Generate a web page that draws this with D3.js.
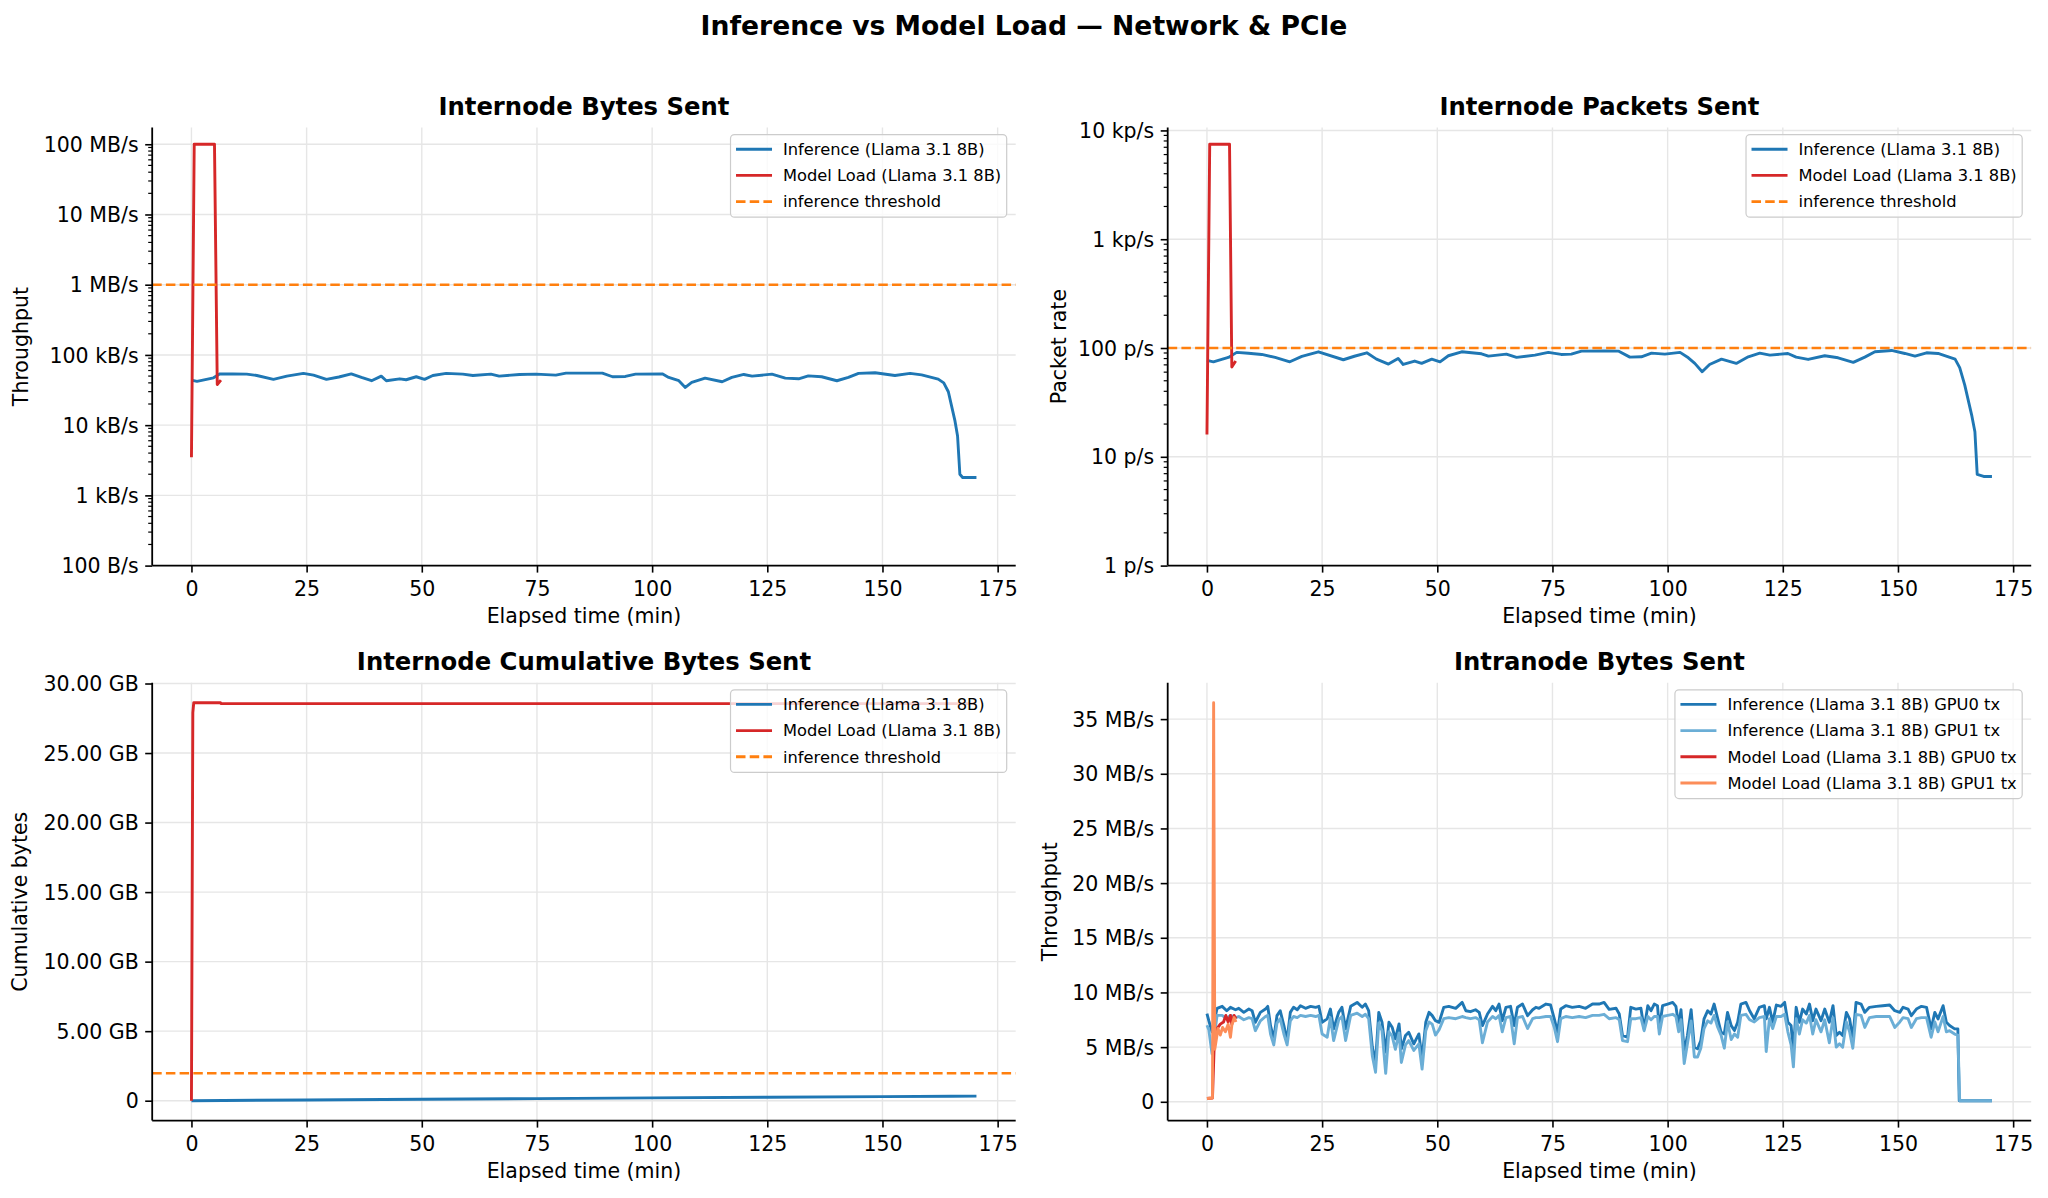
<!DOCTYPE html>
<html><head><meta charset="utf-8">
<script src="https://cdn.jsdelivr.net/npm/d3@7/dist/d3.min.js"></script>
<style>
body{margin:0;background:#fff}
svg{display:block}
text{font-family:"DejaVu Sans",sans-serif;fill:#000}
</style>
</head><body>
<svg id="chart" width="2048" height="1198"></svg>
<script>
// ---------------- DATA ----------------
const suptitle = "Inference vs Model Load — Network & PCIe";
const panelTitles = ["Internode Bytes Sent","Internode Packets Sent","Internode Cumulative Bytes Sent","Intranode Bytes Sent"];
const yLabels = ["Throughput","Packet rate","Cumulative bytes","Throughput"];
const xLabel = "Elapsed time (min)";
const xTicks = [0,25,50,75,100,125,150,175];

const bytesTicks = [1e2,1e3,1e4,1e5,1e6,1e7,1e8];
const bytesTickLabels = ["100 B/s","1 kB/s","10 kB/s","100 kB/s","1 MB/s","10 MB/s","100 MB/s"];
const pktTicks = [1,10,100,1000,10000];
const pktTickLabels = ["1 p/s","10 p/s","100 p/s","1 kp/s","10 kp/s"];
const cumTicks = [0,5,10,15,20,25,30];
const cumTickLabels = ["0","5.00 GB","10.00 GB","15.00 GB","20.00 GB","25.00 GB","30.00 GB"];
const intraTicks = [0,5,10,15,20,25,30,35];
const intraTickLabels = ["0","5 MB/s","10 MB/s","15 MB/s","20 MB/s","25 MB/s","30 MB/s","35 MB/s"];

const legendNet = ["Inference (Llama 3.1 8B)","Model Load (Llama 3.1 8B)","inference threshold"];
const legendIntra = ["Inference (Llama 3.1 8B) GPU0 tx","Inference (Llama 3.1 8B) GPU1 tx","Model Load (Llama 3.1 8B) GPU0 tx","Model Load (Llama 3.1 8B) GPU1 tx"];

// thresholds
const bytesThreshold = 1e6;      // B/s
const pktThreshold = 100;        // p/s
const cumThreshold = 1.97;       // GB

// Internode bytes sent, [minute, kB/s]
const infBytes = [[0,43.8],[1.2,42.0],[3.0,44.5],[4.8,47.2],[6.2,53.8],[9,53.5],[12.0,53.3],[14.2,51.0],[17.8,44.8],[20.7,49.9],[24.3,54.6],[26.5,51.5],[29.3,44.8],[32,48.5],[34.7,53.8],[36.9,47.8],[39.1,42.9],[41.2,49.9],[42.3,42.9],[45.2,45.7],[46.6,44.3],[48.8,48.9],[50.6,44.8],[52.4,51.0],[55.3,54.6],[58.9,53.3],[61.1,51.0],[65.0,53.3],[66.8,49.9],[71.2,52.7],[74.8,53.3],[79.1,51.6],[81.3,55.1],[86.3,55.1],[89.2,55.1],[91.4,48.9],[94.2,49.4],[96.4,53.3],[102.2,53.8],[103.6,47.8],[105.8,42.9],[107.2,34.5],[108.6,40.6],[111.5,46.8],[115.2,41.5],[117.3,47.8],[119.9,52.7],[121.7,49.9],[126.0,53.3],[128.9,46.8],[131.8,45.7],[133.9,50.4],[136.8,48.9],[140.1,42.9],[142.6,47.8],[144.8,54.6],[148.4,55.7],[152.7,51.0],[156.0,54.6],[158.5,52.1],[162.1,45.3],[163.3,40.0],[164.3,29.9],[165.7,11.8],[166.3,7.0],[166.8,2.0],[167.4,1.8],[170.4,1.8]];
const loadBytes = [[0,3.5],[0.6,100000],[5.0,100000],[5.6,38.0],[6.4,43.8]];

// Internode packets sent, [minute, p/s]
const infPkts = [[0,76.9],[1.4,74.7],[4.65,82.0],[6.46,91.2],[9,89.5],[11.9,87.3],[14.8,82.0],[18.0,74.7],[20.6,83.7],[24.2,92.3],[29.6,78.0],[32,84],[34.7,90.4],[36.8,79.1],[39.4,71.2],[41.5,80.2],[42.6,70.6],[45.1,75.9],[46.6,72.2],[48.8,79.1],[50.6,74.7],[52.4,84.9],[55.3,92.3],[59.6,88.5],[61.1,84.3],[65.0,87.9],[67.2,82.0],[71.2,86.0],[74.1,91.2],[76.9,87.3],[79.1,87.9],[81.3,93.7],[86.4,94.2],[89.3,93.7],[91.8,82.5],[94.3,83.0],[96.5,89.8],[99.4,87.9],[102.7,91.2],[104.5,81.3],[105.9,72.2],[107.5,60.5],[109.1,70.6],[111.7,79.1],[114.9,72.2],[117.5,83.0],[120.0,89.8],[122.2,86.0],[126.1,89.1],[127.9,82.5],[130.5,78.5],[134.1,84.9],[137.0,81.3],[140.3,73.8],[142.8,82.5],[145.0,92.3],[148.6,95.0],[151.5,89.1],[153.7,84.3],[156.2,90.4],[158.7,89.1],[162.4,79.1],[163.4,66],[164.5,45.6],[166.0,24.2],[166.7,17.0],[167.2,6.9],[168.6,6.6],[170.4,6.6]];
const loadPkts = [[0,16],[0.6,7470],[4.9,7470],[5.4,67],[6.24,75.9]];

// Internode cumulative bytes, [minute, GB]
const infCum = [[0,0],[25,0.05],[50,0.1],[75,0.15],[100,0.2],[125,0.245],[150,0.29],[165,0.325],[170.4,0.33]];
const loadCum = [[0,0],[0.3,27.9],[0.5,28.62],[6.3,28.62],[6.4,28.55],[170.4,28.55]];

// Intranode bytes sent, [minute, MB/s]
const infGpu0 = [[0,8.07],[0.4,7.42],[1.1,6.4],[2.2,8.55],[3.3,8.73],[4.3,8.33],[5.1,8.64],[6.2,8.42],[6.9,8.55],[8.0,8.18],[9.1,8.48],[9.8,8.33],[10.5,7.27],[11.6,8.18],[12.7,8.48],[13.2,8.73],[13.8,6.97],[14.5,5.76],[15.2,7.88],[15.9,8.33],[16.7,6.97],[17.4,5.61],[18.1,8.18],[18.8,8.64],[19.6,8.42],[20.3,8.79],[21.4,8.55],[22.5,8.73],[23.6,8.64],[24.3,8.73],[25.0,7.27],[26.1,7.58],[26.8,8.48],[27.5,6.67],[28.6,8.18],[29.3,8.64],[30.1,6.67],[31.2,8.73],[32.6,9.09],[33.7,8.64],[34.4,8.94],[35.1,8.33],[35.9,5.0],[36.6,3.64],[37.3,8.18],[38.0,7.27],[38.8,4.55],[39.5,7.27],[40.2,6.82],[40.9,5.76],[41.7,7.12],[42.2,4.85],[43.1,6.06],[43.8,6.36],[44.9,5.30],[46.0,6.21],[46.7,3.94],[47.5,7.27],[48.2,8.18],[48.9,7.88],[49.6,7.42],[50.4,7.27],[51.4,8.64],[52.5,8.73],[54.0,8.55],[55.4,9.09],[56.2,8.33],[57.2,8.24],[58.3,8.42],[59.1,8.18],[59.8,6.97],[60.9,8.03],[62.0,8.73],[62.7,8.33],[63.4,8.94],[64.1,7.42],[64.9,8.64],[65.9,8.73],[66.7,6.97],[67.4,8.64],[68.5,8.94],[69.6,7.88],[70.7,8.42],[71.4,8.64],[72.1,8.55],[73.6,8.94],[74.6,8.85],[75.4,7.58],[76.1,6.36],[76.8,8.48],[77.9,8.79],[79.3,8.64],[80.8,8.73],[82.2,8.55],[83.7,8.94],[85.1,8.94],[86.2,9.09],[87.3,8.45],[88.8,8.55],[89.5,8.03],[90.2,6.06],[91.3,5.91],[92.0,8.64],[93.1,8.48],[94.2,8.55],[94.9,6.67],[95.7,8.79],[96.4,8.33],[97.1,8.94],[97.8,8.79],[98.2,6.67],[98.9,8.79],[100,8.94],[101.1,9.09],[101.8,8.73],[102.4,6.97],[102.9,8.42],[103.6,4.55],[104.3,6.06],[105.1,8.42],[105.8,5.0],[106.5,4.85],[107.2,5.61],[107.9,7.58],[108.7,8.33],[109.4,8.03],[110.1,8.94],[110.8,7.73],[111.6,6.36],[112.3,6.21],[113.0,8.18],[113.8,6.97],[114.5,6.52],[115.2,7.27],[115.9,8.94],[117.0,9.09],[117.8,8.33],[118.8,7.58],[119.9,8.64],[121.0,8.79],[121.4,7.58],[122.1,8.64],[122.8,7.27],[123.6,8.85],[124.6,8.73],[125.4,9.09],[126.1,7.27],[126.8,6.97],[127.3,4.55],[127.9,8.64],[128.6,7.27],[129.3,8.48],[130.1,8.03],[130.8,8.94],[131.5,7.42],[132.2,8.48],[133.3,7.42],[134.1,8.48],[135.1,7.27],[135.9,8.79],[136.6,6.06],[137.3,6.36],[138.0,6.06],[138.8,8.18],[139.5,7.58],[140.2,5.76],[140.9,9.09],[142.0,8.94],[142.8,8.18],[143.8,8.64],[145.3,8.73],[146.7,8.79],[148.2,8.85],[149.3,8.33],[150.4,8.18],[151.1,8.64],[152.2,8.48],[152.9,7.88],[154.0,8.48],[155.1,8.73],[156.2,8.64],[157.2,6.67],[158.0,8.18],[158.7,7.58],[159.8,8.79],[160.5,7.27],[161.2,6.97],[162.3,6.67],[163.0,6.67],[163.3,0.1],[170.4,0.1]];
const infGpu1 = [[0,7.0],[0.4,6.6],[1.1,4.4],[2.2,7.9],[3.3,7.9],[4.3,7.6],[5.1,7.9],[6.2,7.7],[6.9,7.8],[8.0,7.5],[9.1,7.7],[9.8,7.6],[10.5,6.5],[11.6,7.4],[12.7,7.8],[13.2,7.9],[13.8,6.2],[14.5,5.2],[15.2,7.2],[15.9,7.6],[16.7,6.2],[17.4,5.2],[18.1,7.4],[18.8,7.8],[19.6,7.7],[20.3,7.9],[21.4,7.8],[22.5,7.9],[23.6,7.8],[24.3,7.9],[25.0,6.2],[26.1,5.9],[26.8,7.7],[27.5,5.6],[28.6,7.5],[29.3,7.8],[30.1,5.6],[31.2,7.9],[32.6,8.1],[33.7,7.8],[34.4,8.0],[35.1,7.6],[35.9,4.2],[36.6,2.7],[37.3,7.2],[38.0,6.5],[38.8,2.6],[39.5,6.4],[40.2,6.0],[40.9,4.8],[41.7,6.3],[42.2,3.6],[43.1,5.2],[43.8,5.6],[44.9,4.7],[46.0,5.3],[46.7,3.0],[47.5,6.5],[48.2,7.3],[48.9,7.1],[49.6,6.1],[50.4,6.6],[51.4,7.6],[52.5,7.7],[54.0,7.6],[55.4,7.8],[56.2,7.7],[57.2,7.6],[58.3,7.7],[59.1,7.5],[59.8,5.4],[60.9,7.3],[62.0,7.8],[62.7,7.6],[63.4,7.9],[64.1,6.4],[64.9,7.7],[65.9,7.8],[66.7,5.3],[67.4,7.7],[68.5,7.8],[69.6,6.7],[70.7,7.6],[71.4,7.7],[72.1,7.7],[73.6,7.8],[74.6,7.8],[75.4,6.8],[76.1,5.5],[76.8,7.6],[77.9,7.8],[79.3,7.7],[80.8,7.8],[82.2,7.7],[83.7,7.9],[85.1,7.9],[86.2,8.0],[87.3,7.6],[88.8,7.7],[89.5,7.5],[90.2,5.6],[91.3,5.5],[92.0,7.6],[93.1,7.6],[94.2,7.7],[94.9,6.5],[95.7,7.8],[96.4,7.5],[97.1,7.8],[97.8,7.8],[98.2,6.2],[98.9,7.8],[100,7.9],[101.1,8.0],[101.8,7.8],[102.4,6.4],[102.9,7.5],[103.6,3.5],[104.3,5.3],[105.1,7.4],[105.8,4.1],[106.5,4.1],[107.2,4.9],[107.9,6.7],[108.7,7.4],[109.4,7.2],[110.1,7.9],[110.8,6.9],[111.6,6.1],[112.3,4.9],[113.0,7.3],[113.8,5.7],[114.5,6.2],[115.2,5.9],[115.9,7.9],[117.0,8.0],[117.8,7.5],[118.8,7.3],[119.9,7.7],[121.0,7.8],[121.4,4.6],[122.1,7.6],[122.8,6.7],[123.6,7.8],[124.6,7.8],[125.4,8.0],[126.1,6.4],[126.8,5.2],[127.3,3.2],[127.9,7.6],[128.6,6.2],[129.3,7.5],[130.1,7.2],[130.8,7.9],[131.5,6.2],[132.2,7.5],[133.3,6.4],[134.1,7.5],[135.1,5.4],[135.9,7.7],[136.6,5.0],[137.3,5.3],[138.0,5.0],[138.8,7.3],[139.5,6.4],[140.2,4.9],[140.9,8.0],[142.0,7.9],[142.8,6.8],[143.8,7.7],[145.3,7.8],[146.7,7.8],[148.2,7.8],[149.3,6.8],[150.4,7.3],[151.1,7.7],[152.2,7.6],[152.9,6.8],[154.0,7.6],[155.1,7.7],[156.2,7.7],[157.2,5.9],[158.0,7.3],[158.7,6.4],[159.8,7.8],[160.5,6.4],[161.2,6.5],[162.3,6.2],[163.0,6.1],[163.4,0.1],[170.4,0.1]];
const loadGpu0 = [[0,0.3],[1.2,0.35],[1.6,5.5],[1.9,5.8],[2.2,6.7],[2.9,7.1],[3.6,7.3],[4.1,7.9],[4.6,7.3],[5.1,7.9],[5.4,7.1],[5.9,7.9],[6.3,7.6]];
const loadGpu1 = [[0,0.3],[1.2,0.35],[1.45,36.5],[1.7,4.8],[2.0,5.6],[2.4,6.7],[2.9,6.1],[3.4,6.8],[4.0,6.4],[4.6,7.1],[5.1,5.9],[5.4,7.0],[5.9,7.7],[6.3,7.3]];

// ---------------- STYLE / LAYOUT ----------------
const C = {blue:"#1f77b4", red:"#d62728", orange:"#ff7f0e", dark:"#1f77b4", light:"#6baed6", coral:"#fc8d59"};
const FS = 20.5, LFS = 16.3, LW = 2.9;
const svg = d3.select("#chart");

svg.append("text").attr("x",1024).attr("y",35).attr("text-anchor","middle")
  .attr("font-size",26.6).attr("font-weight","bold").text(suptitle);

function panel(cfg){
  const g = svg.append("g");
  const xExt = [0, d3.max(cfg.series.flatMap(s=>s.data.map(d=>d[0])))];
  const xm = (xExt[1]-xExt[0])*0.05;
  const x = d3.scaleLinear().domain([xExt[0]-xm, xExt[1]+xm]).range([cfg.L, cfg.R]);
  const allY = cfg.series.flatMap(s=>s.data.map(d=>d[1]*cfg.mult));
  let y;
  if(cfg.log){
    const lo = Math.log10(d3.min(allY)), hi = Math.log10(d3.max(allY));
    y = d3.scaleLog().domain([cfg.yMin, Math.pow(10, hi + (hi-lo)*0.05)]).range([cfg.B, cfg.T]);
  } else {
    const lo = d3.min(allY), hi = d3.max(allY), m = (hi-lo)*0.05;
    y = d3.scaleLinear().domain([lo-m, hi+m]).range([cfg.B, cfg.T]);
  }
  // grid
  const grid = g.append("g").attr("stroke","#e6e6e6").attr("stroke-width",1.4);
  xTicks.forEach(t=>grid.append("line").attr("x1",x(t)).attr("x2",x(t)).attr("y1",cfg.T).attr("y2",cfg.B));
  cfg.yTicks.forEach(t=>grid.append("line").attr("x1",cfg.L).attr("x2",cfg.R).attr("y1",y(t)).attr("y2",y(t)));

  // clip
  const cid = "clip"+cfg.id;
  svg.append("clipPath").attr("id",cid).append("rect")
    .attr("x",cfg.L).attr("y",cfg.T).attr("width",cfg.R-cfg.L).attr("height",cfg.B-cfg.T);
  const plot = g.append("g").attr("clip-path",`url(#${cid})`);
  const line = d3.line().x(d=>x(d[0])).y(d=>y(d[1]*cfg.mult));
  cfg.series.forEach(s=>{
    plot.append("path").attr("d",line(s.data)).attr("fill","none")
      .attr("stroke",s.color).attr("stroke-width",LW).attr("stroke-linejoin","round").attr("stroke-linecap","butt");
  });
  if(cfg.threshold!==undefined){
    plot.append("line").attr("x1",cfg.L).attr("x2",cfg.R).attr("y1",y(cfg.threshold)).attr("y2",y(cfg.threshold))
      .attr("stroke",C.orange).attr("stroke-width",2.6).attr("stroke-dasharray","9.5,4.2");
  }

  // axes
  const ax = g.append("g").attr("transform",`translate(0,${cfg.B})`)
    .call(d3.axisBottom(x).tickValues(xTicks).tickSize(7).tickSizeOuter(0).tickPadding(9.3));
  const ay = g.append("g").attr("transform",`translate(${cfg.L},0)`)
    .call(d3.axisLeft(y).tickValues(cfg.yTicks).tickFormat((d,i)=>cfg.yTickLabels[i]).tickSize(7).tickSizeOuter(0).tickPadding(6.5));
  [ax,ay].forEach(a=>{
    a.selectAll("text").attr("font-size",FS).attr("font-family","DejaVu Sans").attr("fill","#000");
    a.selectAll(".tick line").attr("stroke","#000").attr("stroke-width",1.6);
    a.select(".domain").attr("stroke","#000").attr("stroke-width",1.8);
  });
  ay.selectAll("text").attr("dy","0.35em");
  ax.select(".domain").attr("d",`M${cfg.L},0H${cfg.R}`);
  ay.select(".domain").attr("d",`M0,${cfg.B}V${cfg.T}`);
  // minor ticks for log
  if(cfg.log){
    const [d0,d1] = y.domain();
    const minors=[];
    for(let e=Math.floor(Math.log10(d0)); e<=Math.ceil(Math.log10(d1)); e++){
      for(let k=2;k<=9;k++){ const v=k*Math.pow(10,e); if(v>=d0 && v<=d1) minors.push(v); }
    }
    ay.selectAll(".minor").data(minors).enter().append("line").attr("class","minor")
      .attr("x1",0).attr("x2",-4).attr("y1",d=>y(d)).attr("y2",d=>y(d))
      .attr("stroke","#000").attr("stroke-width",1.2);
  }

  // titles / labels
  g.append("text").attr("x",(cfg.L+cfg.R)/2).attr("y",cfg.T-12.8).attr("text-anchor","middle")
    .attr("font-size",24.3).attr("font-weight","bold").text(cfg.title);
  g.append("text").attr("x",(cfg.L+cfg.R)/2).attr("y",cfg.B+57.5).attr("text-anchor","middle")
    .attr("font-size",FS).text(xLabel);
  g.append("text").attr("transform",`translate(${cfg.yLabelX},${(cfg.T+cfg.B)/2}) rotate(-90)`)
    .attr("text-anchor","middle").attr("font-size",FS).text(cfg.yLabel);

  // legend
  const lg = g.append("g");
  const box = lg.append("rect");
  const texts = [];
  cfg.legend.forEach((e,i)=>{
    texts.push(lg.append("text").attr("font-size",LFS).attr("dy","0.35em").text(e.label));
  });
  const tw = d3.max(texts.map(t=>t.node().getComputedTextLength()));
  const bw = 5.5+36+11+tw+5.5, bh = cfg.legend.length*26.2+4;
  const bx = cfg.R-9-bw, by = cfg.T+7;
  box.attr("x",bx).attr("y",by).attr("width",bw).attr("height",bh).attr("rx",4)
    .attr("fill","#fff").attr("fill-opacity",0.8).attr("stroke","#cccccc").attr("stroke-width",1.2);
  cfg.legend.forEach((e,i)=>{
    const cy = by+14.6+i*26.2;
    lg.append("line").attr("x1",bx+5.5).attr("x2",bx+41.5).attr("y1",cy).attr("y2",cy)
      .attr("stroke",e.color).attr("stroke-width",LW).attr("stroke-dasharray",e.dash?"9.5,4.2":null);
    texts[i].attr("x",bx+52.5).attr("y",cy);
  });
}

const netLegend = [{label:legendNet[0],color:C.blue},{label:legendNet[1],color:C.red},{label:legendNet[2],color:C.orange,dash:true}];

panel({id:1,L:152.2,R:1015.7,T:127.6,B:565.6,log:true,yMin:100,mult:1e3,
  series:[{data:infBytes,color:C.blue},{data:loadBytes,color:C.red}],
  threshold:bytesThreshold,yTicks:bytesTicks,yTickLabels:bytesTickLabels,
  title:panelTitles[0],yLabel:yLabels[0],yLabelX:28,legend:netLegend});

panel({id:2,L:1167.7,R:2031.2,T:127.6,B:565.6,log:true,yMin:1,mult:1,
  series:[{data:infPkts,color:C.blue},{data:loadPkts,color:C.red}],
  threshold:pktThreshold,yTicks:pktTicks,yTickLabels:pktTickLabels,
  title:panelTitles[1],yLabel:yLabels[1],yLabelX:1066,legend:netLegend});

panel({id:3,L:152.2,R:1015.7,T:682.8,B:1120.6,log:false,mult:1,
  series:[{data:infCum,color:C.blue},{data:loadCum,color:C.red}],
  threshold:cumThreshold,yTicks:cumTicks,yTickLabels:cumTickLabels,
  title:panelTitles[2],yLabel:yLabels[2],yLabelX:27,legend:netLegend});

panel({id:4,L:1167.7,R:2031.2,T:682.8,B:1120.6,log:false,mult:1,
  series:[{data:infGpu0,color:C.dark},{data:infGpu1,color:C.light},{data:loadGpu0,color:C.red},{data:loadGpu1,color:C.coral}],
  yTicks:intraTicks,yTickLabels:intraTickLabels,
  title:panelTitles[3],yLabel:yLabels[3],yLabelX:1057,
  legend:[{label:legendIntra[0],color:C.dark},{label:legendIntra[1],color:C.light},{label:legendIntra[2],color:C.red},{label:legendIntra[3],color:C.coral}]});
</script>
</body></html>
